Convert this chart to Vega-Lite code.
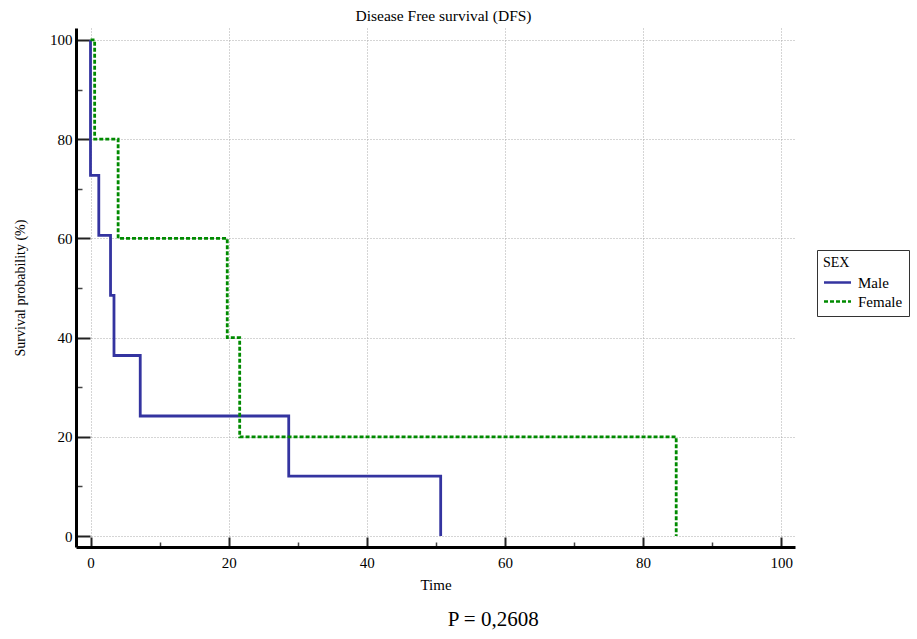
{
  "$schema": "https://vega.github.io/schema/vega-lite/v6.json",
  "width": 719,
  "height": 519,
  "autosize": {"type": "none"},
  "padding": {"left": 76, "top": 28, "right": 122, "bottom": 92},
  "background": "white",
  "title": {
    "text": "Disease Free survival (DFS)",
    "font": "Liberation Serif",
    "fontSize": 15.5,
    "fontWeight": "normal",
    "color": "#000000",
    "anchor": "middle",
    "dx": 8,
    "offset": 4
  },
  "config": {
    "view": {"stroke": null},
    "axis": {
      "labelFont": "Liberation Serif",
      "titleFont": "Liberation Serif",
      "labelColor": "#000000",
      "titleColor": "#000000",
      "titleFontWeight": "normal"
    },
    "legend": {
      "labelFont": "Liberation Serif",
      "titleFont": "Liberation Serif"
    }
  },
  "datasets": {
    "km": [
      {"sex": "Male", "time": 0, "surv": 100, "i": 0},
      {"sex": "Male", "time": 0, "surv": 72.7, "i": 1},
      {"sex": "Male", "time": 1.2, "surv": 60.6, "i": 2},
      {"sex": "Male", "time": 2.9, "surv": 48.5, "i": 3},
      {"sex": "Male", "time": 3.4, "surv": 36.4, "i": 4},
      {"sex": "Male", "time": 7.2, "surv": 24.2, "i": 5},
      {"sex": "Male", "time": 28.7, "surv": 12.1, "i": 6},
      {"sex": "Male", "time": 50.7, "surv": 0, "i": 7},
      {"sex": "Female", "time": 0, "surv": 100, "i": 0},
      {"sex": "Female", "time": 0.6, "surv": 80, "i": 1},
      {"sex": "Female", "time": 4.0, "surv": 60, "i": 2},
      {"sex": "Female", "time": 19.8, "surv": 40, "i": 3},
      {"sex": "Female", "time": 21.6, "surv": 20, "i": 4},
      {"sex": "Female", "time": 84.8, "surv": 0, "i": 5}
    ],
    "note": [{"label": "P = 0,2608", "tx": 58.3, "ty": -16.9}]
  },
  "resolve": {"axis": {"x": "independent", "y": "independent"}},
  "layer": [
    {
      "data": {"name": "km"},
      "mark": {"type": "line", "opacity": 0},
      "encoding": {
        "x": {
          "field": "time", "type": "quantitative",
          "scale": {"domain": [-2.1, 102], "nice": false, "zero": false},
          "axis": {
            "orient": "bottom",
            "values": [10, 30, 50, 70, 90],
            "labels": false, "domain": false, "grid": false, "title": null,
            "tickSize": -5, "tickWidth": 1.5, "tickColor": "#444444"
          }
        },
        "y": {
          "field": "surv", "type": "quantitative",
          "scale": {"domain": [-2.2, 102.4], "nice": false, "zero": false},
          "axis": {
            "orient": "left",
            "values": [10, 30, 50, 70, 90],
            "labels": false, "domain": false, "grid": false, "title": null,
            "tickSize": -6, "tickWidth": 1.5, "tickColor": "#444444"
          }
        },
        "detail": {"field": "sex"}
      }
    },
    {
      "data": {"name": "km"},
      "mark": {"type": "line", "interpolate": "step-after", "strokeWidth": 2.8},
      "encoding": {
        "x": {
          "field": "time", "type": "quantitative",
          "axis": {
            "orient": "bottom",
            "values": [0, 20, 40, 60, 80, 100],
            "grid": true, "gridDash": [1, 2], "gridColor": "#aaaaaa", "gridWidth": 1,
            "domain": true, "domainColor": "#000000", "domainWidth": 3,
            "tickSize": -10, "tickWidth": 2, "tickColor": "#222222",
            "labelFontSize": 15, "labelPadding": 18,
            "title": "Time", "titleFontSize": 15, "titlePadding": 7
          }
        },
        "y": {
          "field": "surv", "type": "quantitative",
          "axis": {
            "orient": "left",
            "values": [0, 20, 40, 60, 80, 100],
            "grid": true, "gridDash": [1, 2], "gridColor": "#aaaaaa", "gridWidth": 1,
            "domain": true, "domainColor": "#000000", "domainWidth": 3,
            "tickSize": -14, "tickWidth": 2, "tickColor": "#222222",
            "labelFontSize": 15, "labelPadding": 18,
            "title": "Survival probability (%)", "titleFontSize": 14, "titlePadding": 22
          }
        },
        "color": {
          "field": "sex", "type": "nominal",
          "scale": {"domain": ["Male", "Female"], "range": ["#3434A0", "#008A00"]},
          "legend": {
            "title": "SEX",
            "orient": "none", "legendX": 741, "legendY": 222,
            "strokeColor": "#333333", "padding": 6,
            "titleFontSize": 14, "titleFontWeight": "normal", "titleColor": "#000000", "titlePadding": 2,
            "labelFontSize": 15, "labelColor": "#000000", "labelOffset": 10,
            "symbolType": "M -1.5 0 L 1.5 0", "symbolStrokeWidth": 2.5, "symbolSize": 324,
            "symbolOffset": 4,
            "rowPadding": 0
          }
        },
        "strokeDash": {
          "field": "sex", "type": "nominal",
          "scale": {"domain": ["Male", "Female"], "range": [[1, 0], [4, 2]]},
          "legend": {"title": "SEX"}
        },
        "order": {"field": "i", "type": "quantitative"}
      }
    },
    {
      "data": {"name": "note"},
      "mark": {"type": "text", "font": "Liberation Serif", "fontSize": 21, "align": "center", "baseline": "middle", "color": "#000000"},
      "encoding": {
        "x": {"field": "tx", "type": "quantitative", "axis": null},
        "y": {"field": "ty", "type": "quantitative", "axis": null},
        "text": {"field": "label"}
      }
    }
  ]
}
